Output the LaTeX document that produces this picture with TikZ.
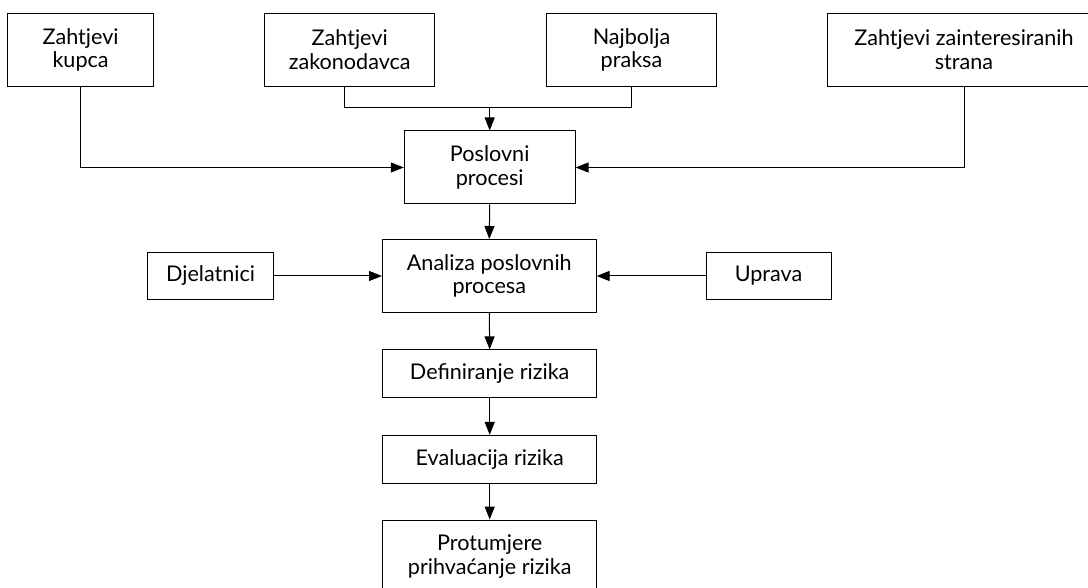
\documentclass[tikz,border=0pt]{standalone}
\usepackage{fontspec}
\setmainfont{Lato}
\usetikzlibrary{arrows.meta}

\begin{document}
\begin{tikzpicture}[
           x = 0.5pt, y = -0.5pt,
           > = {Triangle[length=6.5pt,width=5pt]},
  blok/.style = {draw, line width=0.5pt, align=center, inner sep=0pt,
                 minimum height=36.5pt, font=\fontsize{10.8}{11.7}\selectfont},
 niski/.style = {blok, minimum height=23.8pt},
  veza/.style = {line width=0.5pt, ->},
 linija/.style = {line width=0.5pt}
                        ]
\useasboundingbox (0,0) rectangle (1088,588);
% zahtjevi
\node[blok, minimum width=73pt]    (kupac)  at (80.6,49.7)  {Zahtjevi\\kupca};
\node[blok, minimum width=85pt]    (zakon)  at (349.7,49.7) {Zahtjevi\\zakonodavca};
\node[blok, minimum width=85pt]    (praksa) at (631.5,49.7) {Najbolja\\praksa};
\node[blok, minimum width=137pt]   (strane) at (964,49.7)   {Zahtjevi zainteresiranih\\strana};
% procesi
\node[blok, minimum width=85.4pt]  (posl)   at (489.7,167.5) {Poslovni\\procesi};
\node[blok, minimum width=106.8pt] (analiza) at (489.3,276)  {Analiza poslovnih\\procesa};
\node[niski, minimum width=63pt]   (djel)   at (210.6,276)   {Djelatnici};
\node[niski, minimum width=62.5pt] (uprava) at (768.5,276)   {Uprava};
% rizik
\node[niski, minimum width=107pt]  (defin)  at (489.7,373.7) {Definiranje rizika};
\node[niski, minimum width=107pt]  (eval)   at (489.7,459.2) {Evaluacija rizika};
\node[blok, minimum width=107pt]   (protu)  at (489.7,556.5) {Protumjere\\prihvaćanje rizika};
% veze
\coordinate (cvor) at (489.7,107.7);
\draw[linija] ([xshift=-2.5pt]zakon.south) |- (cvor) -| (praksa.south);
\draw[veza] (cvor) -- (posl.north);
\draw[veza] (kupac.south) |- (posl.west);
\draw[veza] (strane.south) |- (posl.east);
\draw[veza] (posl.south) -- (analiza.north);
\draw[veza] (djel.east) -- (analiza.west);
\draw[veza] (uprava.west) -- (analiza.east);
\draw[veza] (analiza.south) -- (defin.north);
\draw[veza] (defin.south) -- (eval.north);
\draw[veza] (eval.south) -- (protu.north);
\end{tikzpicture}
\end{document}
